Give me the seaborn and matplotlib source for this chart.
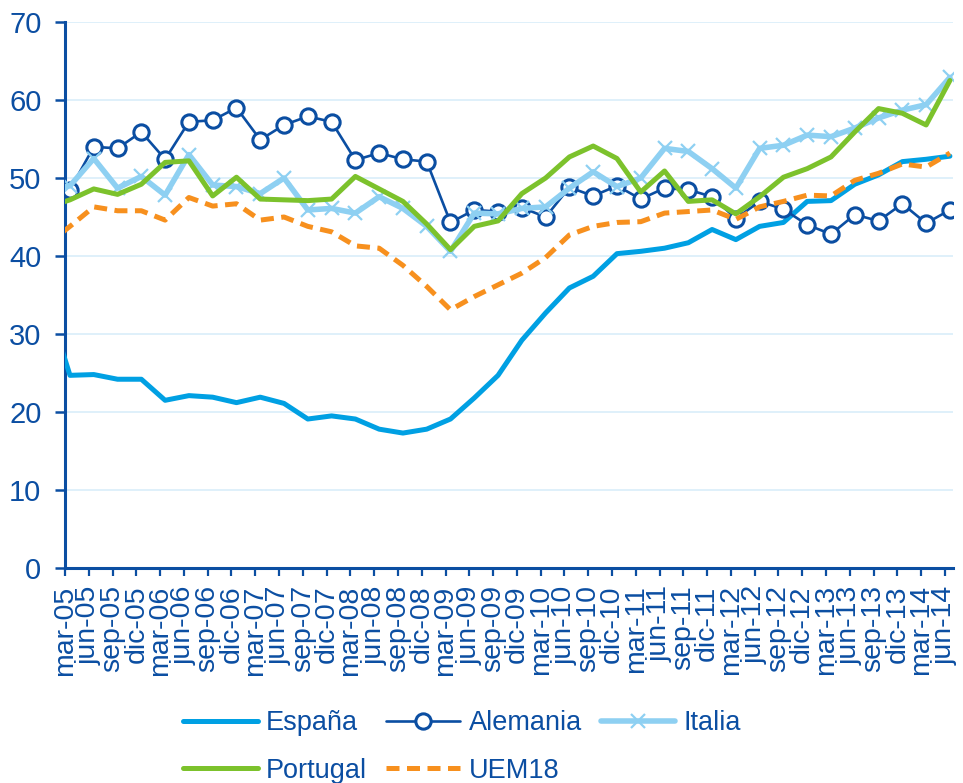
import numpy as np
import pandas as pd
import matplotlib
matplotlib.use("Agg")
import matplotlib.pyplot as plt
import seaborn as sns

# ---------------- data (first entry = dic-04, clipped at the left edge) ----------------
periods = ["dic-04",
           "mar-05", "jun-05", "sep-05", "dic-05", "mar-06", "jun-06", "sep-06", "dic-06",
           "mar-07", "jun-07", "sep-07", "dic-07", "mar-08", "jun-08", "sep-08", "dic-08",
           "mar-09", "jun-09", "sep-09", "dic-09", "mar-10", "jun-10", "sep-10", "dic-10",
           "mar-11", "jun-11", "sep-11", "dic-11", "mar-12", "jun-12", "sep-12", "dic-12",
           "mar-13", "jun-13", "sep-13", "dic-13", "mar-14", "jun-14"]
tick_labels = periods[1:]

espana = [34.4,
          24.7, 24.8, 24.2, 24.2, 21.5, 22.1, 21.9, 21.2, 21.9, 21.1, 19.1, 19.5, 19.1,
          17.8, 17.3, 17.8, 19.1, 21.8, 24.7, 29.2, 32.7, 35.9, 37.4, 40.3, 40.6, 41.0,
          41.7, 43.4, 42.1, 43.8, 44.3, 47.0, 47.1, 49.2, 50.4, 52.1, 52.4, 52.8]
alemania = [np.nan,
            48.5, 54.0, 53.8, 55.9, 52.4, 57.2, 57.4, 59.0, 54.9, 56.8, 57.9, 57.2, 52.3,
            53.2, 52.4, 52.1, 44.3, 45.9, 45.7, 46.2, 45.0, 48.8, 47.7, 49.0, 47.3, 48.7,
            48.5, 47.6, 44.8, 47.0, 46.0, 44.0, 42.8, 45.3, 44.5, 46.7, 44.2, 45.9]
italia = [48.5,
          49.0, 52.5, 48.7, 50.2, 47.8, 53.0, 49.1, 48.9, 48.0, 50.0, 45.9, 46.1, 45.5,
          47.6, 46.1, 43.8, 40.6, 45.5, 45.4, 46.1, 46.3, 48.7, 50.8, 48.9, 50.0, 53.8,
          53.4, 51.2, 48.7, 53.8, 54.2, 55.5, 55.3, 56.4, 57.7, 58.7, 59.4, 62.9]
portugal = [46.2,
            47.2, 48.6, 47.9, 49.2, 52.0, 52.2, 47.7, 50.1, 47.3, 47.2, 47.1, 47.3, 50.2,
            48.6, 47.0, 44.1, 40.8, 43.8, 44.5, 48.0, 50.0, 52.7, 54.1, 52.5, 48.2, 50.9,
            47.0, 47.2, 45.4, 47.6, 50.1, 51.2, 52.7, 55.9, 58.9, 58.3, 56.8, 62.5]
uem18 = [41.4,
         43.8, 46.3, 45.8, 45.8, 44.6, 47.5, 46.4, 46.7, 44.6, 45.0, 43.8, 43.1, 41.3,
         41.0, 38.8, 36.1, 33.1, 34.8, 36.3, 37.8, 39.8, 42.7, 43.8, 44.3, 44.4, 45.5,
         45.7, 45.9, 44.7, 46.3, 47.0, 47.8, 47.7, 49.7, 50.6, 51.8, 51.4, 53.2]

# ---------------- style ----------------
sns.set_style("white")
plt.rcParams["font.family"] = ["Liberation Sans", "DejaVu Sans"]

NAVY = "#0B4EA2"
C_ES = "#00A0E3"
C_DE = "#0B4EA2"
C_IT = "#8ED0F2"
C_PT = "#7CC22C"
C_UE = "#F7901E"
GRID = "#DCEFFA"

fig = plt.figure(figsize=(9.63, 7.83), dpi=100)
ax = fig.add_axes([65 / 963, 1 - 568 / 783, (953 - 65) / 963, (568 - 22) / 783])

# data points sit slightly to the right of their tick marks
xpos = np.arange(-1, len(tick_labels)) + 0.21

df = pd.DataFrame({"x": xpos, "España": espana, "Alemania": alemania,
                   "Italia": italia, "Portugal": portugal, "UEM18": uem18})

sns.lineplot(data=df, x="x", y="España", ax=ax, color=C_ES, lw=3.6,
             label="España", zorder=3)
sns.lineplot(data=df, x="x", y="Alemania", ax=ax, color=C_DE, lw=1.9,
             marker="o", markersize=11, markerfacecolor="white",
             markeredgecolor=C_DE, markeredgewidth=2.2, label="Alemania", zorder=4)
sns.lineplot(data=df, x="x", y="Italia", ax=ax, color=C_IT, lw=4.0,
             marker="x", markersize=10, markeredgecolor=C_IT,
             markeredgewidth=1.6, label="Italia", zorder=5)
sns.lineplot(data=df, x="x", y="Portugal", ax=ax, color=C_PT, lw=3.6,
             label="Portugal", zorder=6)
sns.lineplot(data=df, x="x", y="UEM18", ax=ax, color=C_UE, lw=3.6,
             linestyle=(0, (2.6, 1.5)), label="UEM18", zorder=7)

if ax.get_legend() is not None:
    ax.get_legend().remove()

# ---------------- axes ----------------
ax.set_xlim(0, 37.34)
ax.set_ylim(0, 70)
ax.set_yticks(np.arange(0, 71, 10))
ax.set_xticks(np.arange(len(tick_labels)))
ax.set_xticklabels(tick_labels, rotation=90)
ax.set_xlabel("")
ax.set_ylabel("")

ax.yaxis.grid(True, color=GRID, lw=1.3)
ax.xaxis.grid(False)
ax.set_axisbelow(True)

for s in ["top", "right"]:
    ax.spines[s].set_visible(False)
for s in ["left", "bottom"]:
    ax.spines[s].set_color(NAVY)
    ax.spines[s].set_linewidth(2.2)

ax.tick_params(axis="y", colors=NAVY, labelsize=21, direction="out",
               length=7, width=1.8, pad=10, left=True)
ax.tick_params(axis="x", colors=NAVY, labelsize=20.5, direction="out",
               length=5.5, width=1.6, pad=7, bottom=True)

# ---------------- legend ----------------
hmap = {ln.get_label(): ln for ln in ax.get_lines()}
order = ["España", "Portugal", "Alemania", "UEM18", "Italia"]
fig.legend([hmap[k] for k in order], order, loc="center",
           bbox_to_anchor=(462 / 963, 1 - 747 / 783), ncol=3, frameon=False,
           fontsize=19.5, labelcolor=NAVY, handlelength=2.75, handletextpad=0.3,
           columnspacing=0.7, labelspacing=0.8)

fig.savefig("out.png", dpi=100)
